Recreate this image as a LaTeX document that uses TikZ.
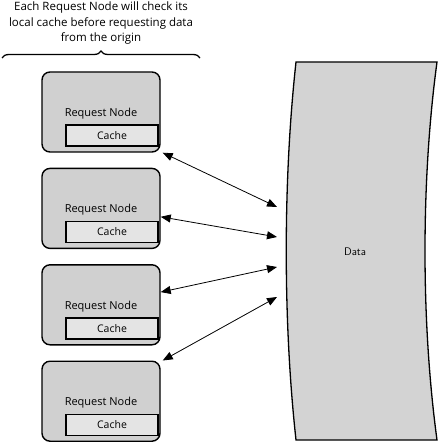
\documentclass[tikz,border=0pt]{standalone}
\usepackage{fontspec}
\setmainfont{Open Sans}
\usepackage{tikz}
\usetikzlibrary{arrows.meta,positioning,decorations.pathreplacing}
\definecolor{nodegray}{HTML}{D0D0D0}
\definecolor{cachegray}{HTML}{E4E4E4}
\definecolor{datagray}{HTML}{D3D3D3}
\tikzset{
  reqbox/.style={
    rectangle, rounded corners=8pt, draw=black, fill=nodegray,
    line width=1.4pt, minimum width=118pt, minimum height=80pt,
    inner sep=0pt
  },
  cachebox/.style={
    rectangle, draw=black, fill=cachegray, line width=1.4pt,
    minimum width=92pt, minimum height=21pt, inner sep=0pt,
    font=\fontsize{10.5}{12}\selectfont
  },
  labeltext/.style={
    font=\fontsize{11}{13}\selectfont, inner sep=0pt
  },
  twoway/.style={
    {Triangle[length=10pt,width=8pt]}-{Triangle[length=10pt,width=8pt]},
    line width=0.8pt
  },
  brace/.style={
    decorate, decoration={brace, amplitude=7pt}, line width=1.3pt
  },
}
\begin{document}
\begin{tikzpicture}[x=1pt,y=-1pt,node distance=15pt]
  \useasboundingbox (0,0) rectangle (438,443);

  % request nodes
  \node[reqbox] (rn1) at (101,112) {};
  \node[reqbox, below=of rn1] (rn2) {};
  \node[reqbox, below=of rn2] (rn3) {};
  \node[reqbox, below=of rn3] (rn4) {};
  \foreach \i in {1,...,4}{
    \node[labeltext] (lbl\i) at ([yshift=-1.5pt]rn\i.center) {Request Node};
    \node[cachebox, anchor=south east] (cache\i)
      at ([xshift=-2pt,yshift=6pt]rn\i.south east) {Cache};
  }

  % data store
  \draw[fill=datagray, line width=1.3pt]
    (296,62) -- (437,62) .. controls (421,180) and (421,322) .. (437,440)
    -- (296,440) .. controls (283,322) and (283,180) .. (296,62) -- cycle;
  \node[font=\fontsize{11}{13}\selectfont\sffamily] (data) at (355,252) {Data};
  \coordinate (d1) at (277,207);
  \coordinate (d2) at (277,237);
  \coordinate (d3) at (277,267);
  \coordinate (d4) at (277,297);

  % links
  \draw[twoway] ([xshift=2pt]rn1.south east) -- (d1);
  \draw[twoway] (rn2.-8) -- (d2);
  \draw[twoway] (rn3.12) -- (d3);
  \draw[twoway] ([xshift=2pt]rn4.north east) -- (d4);

  % note
  \coordinate (bl) at (2,58);
  \coordinate (br) at (200,58);
  \draw[brace] (bl) -- (br);
  \node[align=center, font=\fontsize{11.5}{15.5}\selectfont] (note) at (101,23.5)
    {Each Request Node will check its\\local cache before requesting data\\from the origin};
\end{tikzpicture}
\end{document}
